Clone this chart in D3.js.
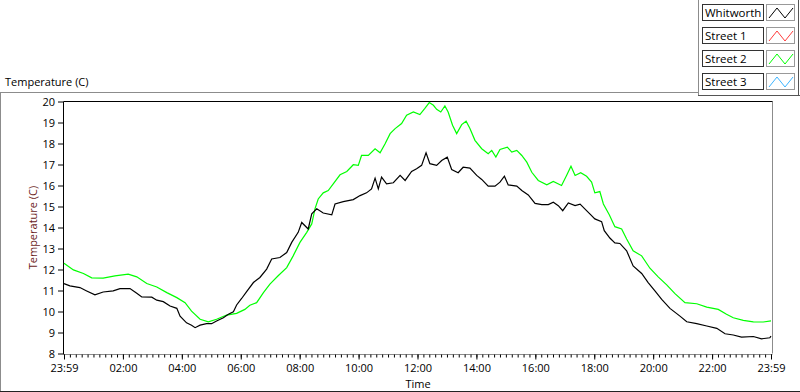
<!DOCTYPE html>
<html>
<head>
<meta charset="utf-8">
<script src="https://cdn.jsdelivr.net/npm/d3@7"></script>
<style>
  body { margin: 0; background: #fff; }
  svg { display: block; font-family: "Open Sans", sans-serif; font-size: 11px; }
</style>
</head>
<body>
<svg id="chart"></svg>
<script>
// hours since the 23:59 start, temperatures in C
const whitworthHours = [0, 0.2, 0.54, 0.77, 1.05, 1.33, 1.67, 1.9, 2.24, 2.47, 2.64, 2.98, 3.15, 3.37, 3.6, 3.83, 3.94, 4.16, 4.33, 4.45, 4.62, 4.84, 5.01, 5.18, 5.41, 5.58, 5.75, 5.86, 6.03, 6.2, 6.43, 6.65, 6.88, 7.05, 7.33, 7.56, 7.73, 7.95, 8.07, 8.29, 8.41, 8.58, 8.8, 9.09, 9.2, 9.48, 9.82, 10.05, 10.27, 10.44, 10.56, 10.67, 10.78, 10.95, 11.18, 11.41, 11.58, 11.8, 11.97, 12.14, 12.29, 12.42, 12.65, 12.82, 13.01, 13.16, 13.38, 13.55, 13.78, 14.01, 14.18, 14.4, 14.63, 14.8, 14.95, 15.08, 15.37, 15.54, 15.76, 15.99, 16.22, 16.44, 16.61, 16.78, 16.93, 17.12, 17.35, 17.52, 17.68, 17.85, 18.02, 18.25, 18.34, 18.53, 18.7, 18.87, 19.1, 19.32, 19.61, 19.83, 20.06, 20.29, 20.57, 20.91, 21.14, 21.48, 21.82, 22.16, 22.44, 22.72, 23.0, 23.4, 23.68, 23.96, 24];
const whitworthTemps = [11.33, 11.22, 11.14, 10.98, 10.79, 10.93, 10.98, 11.09, 11.09, 10.87, 10.69, 10.68, 10.54, 10.47, 10.26, 10.15, 9.78, 9.46, 9.35, 9.23, 9.35, 9.42, 9.42, 9.55, 9.7, 9.87, 9.99, 10.31, 10.62, 10.95, 11.38, 11.62, 12.02, 12.5, 12.57, 12.81, 13.29, 13.77, 14.24, 13.93, 14.65, 14.89, 14.69, 14.6, 15.12, 15.23, 15.33, 15.52, 15.65, 15.84, 16.35, 15.84, 16.4, 16.08, 16.13, 16.48, 16.24, 16.67, 16.8, 16.96, 17.56, 17.04, 16.96, 17.19, 17.35, 16.76, 16.61, 16.87, 16.83, 16.48, 16.29, 15.97, 15.97, 16.16, 16.44, 16.03, 15.97, 15.76, 15.55, 15.15, 15.09, 15.09, 15.2, 15.04, 14.8, 15.17, 15.04, 15.11, 14.89, 14.65, 14.41, 14.28, 13.85, 13.5, 13.27, 13.24, 12.89, 12.17, 11.81, 11.38, 10.98, 10.58, 10.15, 9.78, 9.51, 9.42, 9.31, 9.2, 8.94, 8.88, 8.78, 8.81, 8.7, 8.75, 8.83];

const street2Hours = [0, 0.32, 0.66, 0.94, 1.33, 1.73, 2.18, 2.47, 2.81, 3.15, 3.49, 3.83, 4.11, 4.33, 4.62, 4.9, 5.18, 5.52, 5.86, 6.14, 6.31, 6.54, 6.77, 6.99, 7.27, 7.56, 7.78, 8.01, 8.24, 8.41, 8.52, 8.63, 8.8, 8.97, 9.14, 9.37, 9.6, 9.82, 9.99, 10.1, 10.33, 10.56, 10.73, 10.9, 11.07, 11.24, 11.46, 11.63, 11.86, 12.08, 12.25, 12.4, 12.54, 12.65, 12.79, 12.93, 13.04, 13.19, 13.33, 13.5, 13.65, 13.78, 13.95, 14.18, 14.4, 14.52, 14.66, 14.8, 15.05, 15.2, 15.37, 15.54, 15.71, 15.88, 16.1, 16.39, 16.61, 16.89, 17.06, 17.21, 17.35, 17.54, 17.74, 17.91, 18.02, 18.19, 18.31, 18.51, 18.7, 18.93, 19.1, 19.32, 19.61, 19.89, 20.17, 20.46, 20.74, 21.08, 21.48, 21.82, 22.21, 22.49, 22.72, 23.06, 23.4, 23.74, 24];
const street2Temps = [12.3, 11.98, 11.81, 11.6, 11.59, 11.7, 11.78, 11.65, 11.33, 11.17, 10.9, 10.66, 10.42, 10.02, 9.63, 9.51, 9.63, 9.83, 9.91, 10.1, 10.3, 10.42, 10.9, 11.3, 11.7, 12.09, 12.65, 13.29, 13.77, 14.17, 14.89, 15.36, 15.65, 15.76, 16.08, 16.51, 16.67, 16.99, 16.96, 17.43, 17.43, 17.75, 17.56, 17.99, 18.47, 18.71, 18.95, 19.35, 19.5, 19.38, 19.67, 19.95, 19.82, 19.63, 19.5, 19.79, 19.5, 18.87, 18.47, 18.9, 19.06, 18.71, 18.15, 17.75, 17.51, 17.67, 17.35, 17.72, 17.83, 17.59, 17.67, 17.43, 17.11, 16.63, 16.24, 16.03, 16.19, 16, 16.48, 16.92, 16.48, 16.61, 16.44, 16.16, 15.65, 15.71, 15.12, 14.61, 14.04, 13.93, 13.45, 12.89, 12.65, 12.06, 11.65, 11.27, 10.85, 10.42, 10.37, 10.21, 10.1, 9.87, 9.7, 9.58, 9.51, 9.5, 9.55];

const legendNames = ["Whitworth", "Street 1", "Street 2", "Street 3"];
const legendColors = ["#000000", "#ff3c3c", "#00ff00", "#3cb4ff"];

const yTicks = [8, 9, 10, 11, 12, 13, 14, 15, 16, 17, 18, 19, 20];
const xMajorTicks = [0, 2, 4, 6, 8, 10, 12, 14, 16, 18, 20, 22, 24];
const xTickLabels = ["23:59", "02:00", "04:00", "06:00", "08:00", "10:00", "12:00", "14:00", "16:00", "18:00", "20:00", "22:00", "23:59"];

const size = { width: 800, height: 392 };
const margin = { top: 101, right: 28, bottom: 39, left: 63 };

const svg = d3.select("#chart").attr("width", size.width).attr("height", size.height);

const x = d3.scaleLinear().domain([0, 24]).range([margin.left + 1, size.width - margin.right - 1]);
const y = d3.scaleLinear().domain([8, 20]).range([size.height - margin.bottom + 0.5, margin.top + 0.5]);

// outer frame
svg.append("line").attr("x1", 0).attr("x2", 698).attr("y1", 92.5).attr("y2", 92.5).attr("stroke", "#8c8c8c");
svg.append("line").attr("x1", 0.5).attr("x2", 0.5).attr("y1", 92).attr("y2", 392).attr("stroke", "#8c8c8c");
svg.append("line").attr("x1", 0).attr("x2", 800).attr("y1", 391.5).attr("y2", 391.5).attr("stroke", "#222");

svg.append("text").attr("x", 5).attr("y", 86).text("Temperature (C)");

// plot frame: dark top/left, grey bottom/right
const px0 = margin.left + 0.5, px1 = size.width - margin.right + 0.5;
const py0 = margin.top + 0.5, py1 = size.height - margin.bottom + 0.5;
svg.append("line").attr("x1", px1).attr("x2", px1).attr("y1", py0).attr("y2", py1).attr("stroke", "#8c8c8c");
svg.append("line").attr("x1", px0).attr("x2", px1).attr("y1", py1 + 1).attr("y2", py1 + 1).attr("stroke", "#8c8c8c");
svg.append("line").attr("x1", px0).attr("x2", px1).attr("y1", py0).attr("y2", py0).attr("stroke", "#000");
svg.append("line").attr("x1", px0).attr("x2", px0).attr("y1", py0).attr("y2", py1 + 1).attr("stroke", "#000");

// y axis
const yAxis = svg.append("g")
  .attr("transform", `translate(${margin.left}, 0)`)
  .call(d3.axisLeft(y).tickValues(yTicks).tickSize(5).tickPadding(3));
yAxis.select(".domain").remove();
yAxis.selectAll("text").attr("font-size", 11).attr("font-family", "Open Sans").attr("fill", "#000");

// x axis, minor ticks every 12 minutes
const xMinor = svg.append("g")
  .attr("transform", `translate(0, ${py1 + 1})`)
  .call(d3.axisBottom(x).tickValues(d3.range(0, 24.01, 0.2)).tickSize(3).tickFormat(""));
xMinor.select(".domain").remove();

const xAxis = svg.append("g")
  .attr("transform", `translate(0, ${py1 + 1})`)
  .call(d3.axisBottom(x).tickValues(xMajorTicks).tickSize(5).tickPadding(5)
    .tickFormat((d, i) => xTickLabels[i]));
xAxis.select(".domain").remove();
xAxis.selectAll("text").attr("font-size", 11).attr("font-family", "Open Sans").attr("fill", "#000");

svg.append("text")
  .attr("x", (px0 + px1) / 2).attr("y", 388)
  .attr("text-anchor", "middle")
  .text("Time");

svg.append("text")
  .attr("transform", `translate(37, ${(py0 + py1) / 2}) rotate(-90)`)
  .attr("text-anchor", "middle")
  .attr("fill", "#6b1c1c")
  .text("Temperature (C)");

// lines
const line = d3.line().x((d) => x(d[0])).y((d) => y(d[1]));
const plot = svg.append("g").attr("fill", "none").attr("stroke-width", 1.2);

plot.append("path")
  .datum(d3.zip(street2Hours, street2Temps))
  .attr("stroke", legendColors[2])
  .attr("d", line);
plot.append("path")
  .datum(d3.zip(whitworthHours, whitworthTemps))
  .attr("stroke", legendColors[0])
  .attr("d", line);

// legend panel
svg.append("line").attr("x1", 698.5).attr("x2", 698.5).attr("y1", 0).attr("y2", 95).attr("stroke", "#8c8c8c");
svg.append("line").attr("x1", 698).attr("x2", 800).attr("y1", 95.5).attr("y2", 95.5).attr("stroke", "#555");
svg.append("line").attr("x1", 798.5).attr("x2", 798.5).attr("y1", 0).attr("y2", 95).attr("stroke", "#555");

const zig = d3.scaleLinear().domain([0, 3]).range([769, 793]);
legendNames.forEach((name, i) => {
  const top = 4 + i * 23;
  const g = svg.append("g");
  g.append("rect").attr("x", 702.5).attr("y", top + 0.5).attr("width", 61).attr("height", 16)
    .attr("fill", "#fff").attr("stroke", "#333");
  g.append("text").attr("x", 705).attr("y", top + 12.5).attr("font-size", 11.5).text(name);
  g.append("rect").attr("x", 766.5).attr("y", top + 0.5).attr("width", 28).attr("height", 16)
    .attr("fill", "#fff").attr("stroke", "#999");
  g.append("path")
    .attr("fill", "none")
    .attr("stroke", legendColors[i])
    .attr("d", d3.line()([[zig(0), top + 14], [zig(1), top + 4], [zig(2), top + 14], [zig(3), top + 4]]));
});
</script>
</body>
</html>
